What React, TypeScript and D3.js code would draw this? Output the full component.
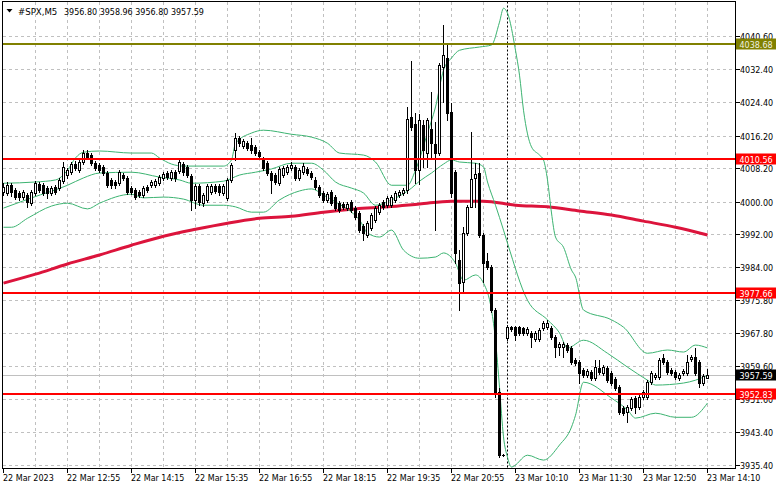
import * as d3 from 'd3';
import React from 'react';

const symbol = '#SPX,M5';
const lastQuote = '3956.80 3958.96 3956.80 3957.59';

const timeLabels = [
  '22 Mar 2023', '22 Mar 12:55', '22 Mar 14:15', '22 Mar 15:35', '22 Mar 16:55', '22 Mar 18:15',
  '22 Mar 19:35', '22 Mar 20:55', '23 Mar 10:10', '23 Mar 11:30', '23 Mar 12:50', '23 Mar 14:10',
];
const priceTicks = [
  4040.6, 4032.4, 4024.4, 4016.2, 4008.2, 4000.0, 3992.0, 3984.0, 3975.8, 3967.8, 3959.6, 3951.6, 3943.4, 3935.4,
];

// M5 bars, [open, high, low, close]
const bars: [number, number, number, number][] = [
  [4002.3, 4004.5, 4001.6, 4003.6], [4002.1, 4004.8, 4001.6, 4004.0], [4004.0, 4004.5, 4001.3, 4002.3], [4002.8, 4003.3, 4000.6, 4001.1],
  [4002.1, 4002.6, 4000.4, 4001.1], [4001.1, 4002.8, 4000.6, 4002.3], [4001.6, 4002.1, 3998.7, 3999.9], [3999.6, 4002.8, 3999.1, 4002.3],
  [4002.1, 4005.0, 4001.6, 4004.5], [4004.3, 4004.8, 4002.3, 4002.8], [4004.0, 4004.5, 4001.6, 4002.1], [4003.3, 4003.8, 4000.9, 4002.1],
  [4002.1, 4003.8, 4001.6, 4003.3], [4003.6, 4004.0, 4001.8, 4002.3], [4003.3, 4005.8, 4002.8, 4005.3], [4005.0, 4009.7, 4004.5, 4008.5],
  [4006.5, 4008.2, 4005.8, 4007.7], [4007.2, 4009.7, 4006.7, 4009.2], [4009.2, 4009.9, 4007.7, 4008.2], [4007.7, 4010.2, 4007.2, 4009.7],
  [4009.7, 4012.6, 4009.2, 4011.9], [4011.9, 4012.6, 4010.4, 4010.9], [4011.4, 4011.9, 4008.9, 4009.4], [4009.4, 4009.9, 4007.7, 4008.2],
  [4008.9, 4009.4, 4007.2, 4007.7], [4008.5, 4008.9, 4006.5, 4007.0], [4007.0, 4007.5, 4003.6, 4004.0], [4005.3, 4005.8, 4003.3, 4004.0],
  [4004.8, 4005.3, 4003.3, 4004.0], [4004.5, 4007.7, 4004.0, 4007.2], [4006.5, 4007.0, 4005.3, 4005.8], [4005.8, 4006.3, 4001.8, 4002.3],
  [4003.3, 4003.8, 4001.8, 4002.3], [4002.8, 4003.3, 4000.6, 4001.1], [4002.3, 4002.8, 4001.1, 4001.6], [4001.6, 4003.8, 4001.1, 4003.3],
  [4003.6, 4004.0, 4002.3, 4002.8], [4004.0, 4005.3, 4003.6, 4004.8], [4004.0, 4005.5, 4003.6, 4005.0], [4004.5, 4006.5, 4004.0, 4006.0],
  [4005.8, 4007.2, 4005.3, 4006.7], [4007.0, 4007.5, 4005.5, 4006.0], [4005.8, 4007.7, 4005.3, 4007.2], [4007.2, 4007.7, 4005.0, 4005.8],
  [4007.5, 4010.7, 4007.0, 4009.7], [4009.2, 4009.7, 4006.5, 4007.2], [4008.5, 4008.9, 4006.0, 4006.5], [4006.3, 4006.7, 3997.9, 4000.4],
  [4000.4, 4004.3, 3998.4, 4003.8], [4003.8, 4004.3, 3999.1, 3999.9], [3999.6, 4002.1, 3998.9, 4001.6], [4000.4, 4004.3, 3999.9, 4003.8],
  [4002.3, 4004.3, 4001.8, 4003.8], [4003.8, 4004.3, 4002.1, 4002.6], [4003.8, 4004.3, 4001.6, 4002.3], [4002.1, 4004.3, 4001.6, 4003.8],
  [4000.9, 4005.8, 4000.4, 4005.3], [4005.3, 4009.4, 4004.8, 4008.9], [4012.6, 4016.8, 4010.2, 4015.6], [4015.6, 4016.0, 4013.6, 4014.3],
  [4013.6, 4015.3, 4013.1, 4014.8], [4014.3, 4014.8, 4012.6, 4013.1], [4013.8, 4015.6, 4011.9, 4012.6], [4013.4, 4013.8, 4011.4, 4011.9],
  [4012.1, 4012.6, 4010.7, 4011.2], [4010.4, 4010.9, 4007.7, 4008.2], [4009.4, 4009.9, 4006.5, 4007.0], [4007.0, 4007.5, 4002.1, 4005.3],
  [4006.5, 4007.0, 4004.3, 4004.8], [4004.5, 4008.5, 4004.0, 4008.0], [4006.5, 4008.7, 4006.0, 4008.2], [4007.2, 4008.9, 4006.7, 4008.5],
  [4008.2, 4009.7, 4007.7, 4008.9], [4008.5, 4008.9, 4005.3, 4005.8], [4005.8, 4008.2, 4005.3, 4007.7], [4007.2, 4009.4, 4006.7, 4008.7],
  [4008.0, 4008.5, 4006.5, 4007.0], [4007.0, 4007.5, 4005.5, 4006.0], [4005.3, 4006.0, 4003.1, 4003.6], [4003.6, 4004.0, 4001.1, 4001.6],
  [4002.1, 4002.6, 3999.9, 4000.4], [4000.4, 4002.3, 3999.9, 4001.8], [4002.3, 4002.8, 3999.1, 3999.6], [4001.1, 4001.6, 3997.9, 3998.4],
  [3999.6, 4000.1, 3997.4, 3997.9], [3999.4, 3999.9, 3998.2, 3998.7], [3998.4, 3999.9, 3997.9, 3999.4], [3999.9, 4000.4, 3997.4, 3997.9],
  [3998.4, 3998.9, 3995.7, 3996.2], [3997.2, 3997.7, 3992.5, 3993.0], [3994.0, 3994.5, 3990.6, 3992.3], [3991.8, 3995.2, 3991.3, 3994.7],
  [3993.5, 3997.2, 3993.0, 3996.7], [3995.5, 3998.9, 3995.0, 3998.4], [3997.4, 3999.6, 3996.9, 3999.1], [3999.9, 4000.4, 3998.2, 3998.7],
  [3999.1, 4001.3, 3998.7, 4000.9], [3999.1, 4001.6, 3998.7, 4001.1], [4000.4, 4002.6, 3999.9, 4002.1], [4001.6, 4002.8, 4001.1, 4002.3],
  [4002.1, 4003.3, 4001.6, 4002.8], [4002.8, 4023.2, 4002.1, 4020.2], [4020.7, 4034.4, 4017.5, 4018.3], [4019.0, 4021.7, 4004.5, 4007.7],
  [4007.7, 4021.4, 4004.3, 4020.0], [4018.7, 4020.0, 4008.5, 4012.6], [4011.9, 4020.5, 4008.5, 4020.0], [4017.8, 4026.8, 4010.9, 4014.3],
  [4014.1, 4019.5, 3993.0, 4011.9], [4011.9, 4034.0, 4011.4, 4033.5], [4033.0, 4043.3, 4024.4, 4035.9], [4035.2, 4038.9, 4020.0, 4021.7],
  [4021.9, 4024.2, 4001.1, 4002.1], [4007.2, 4007.7, 3984.9, 3987.4], [3985.6, 3988.1, 3973.4, 3980.0], [3980.3, 3993.7, 3977.6, 3992.3],
  [3992.3, 3999.1, 3991.8, 3998.7], [3998.7, 4017.0, 3998.7, 4005.5], [4005.8, 4009.4, 3998.7, 4006.7], [4007.0, 4009.4, 3991.3, 3991.8],
  [3991.8, 3992.3, 3980.3, 3984.9], [3985.4, 3987.4, 3983.4, 3983.9], [3983.9, 3984.4, 3972.9, 3973.4], [3973.4, 3973.9, 3952.1, 3953.3],
  [3953.3, 3954.3, 3937.3, 3937.8], [3937.8, 3938.1, 3937.6, 3937.8], [3966.5, 3969.7, 3966.0, 3969.2], [3969.2, 3969.5, 3968.2, 3968.7],
  [3969.2, 3969.5, 3966.0, 3967.3], [3969.2, 3969.5, 3967.3, 3967.8], [3969.0, 3969.2, 3967.3, 3967.8], [3967.8, 3969.2, 3967.3, 3968.7],
  [3967.8, 3968.2, 3964.3, 3966.8], [3966.3, 3968.2, 3965.8, 3967.8], [3966.3, 3969.0, 3965.8, 3968.5], [3969.0, 3970.7, 3968.5, 3970.2],
  [3969.2, 3971.0, 3968.7, 3970.2], [3969.0, 3969.5, 3966.3, 3966.8], [3966.8, 3967.3, 3961.9, 3964.3], [3964.3, 3965.5, 3962.4, 3965.0],
  [3964.3, 3965.5, 3961.9, 3965.0], [3964.8, 3965.3, 3963.1, 3963.6], [3964.1, 3964.6, 3960.1, 3960.6], [3961.1, 3961.6, 3959.9, 3960.4],
  [3960.6, 3961.1, 3955.5, 3957.9], [3958.7, 3959.2, 3956.9, 3957.4], [3957.4, 3958.9, 3956.9, 3958.4], [3958.2, 3958.7, 3956.2, 3956.7],
  [3956.7, 3961.1, 3956.2, 3959.4], [3959.2, 3961.1, 3957.7, 3958.2], [3957.9, 3959.9, 3957.4, 3959.4], [3959.2, 3959.7, 3955.7, 3956.2],
  [3957.9, 3958.4, 3955.0, 3955.5], [3956.5, 3956.9, 3953.8, 3954.3], [3954.5, 3955.0, 3947.9, 3948.4], [3949.4, 3949.9, 3947.6, 3948.1],
  [3948.4, 3950.1, 3945.9, 3949.6], [3949.4, 3952.1, 3948.9, 3951.6], [3951.8, 3952.3, 3948.1, 3949.6], [3949.6, 3952.5, 3949.1, 3952.1],
  [3952.1, 3953.8, 3951.6, 3953.3], [3952.1, 3956.2, 3951.6, 3955.7], [3955.7, 3958.4, 3955.2, 3957.9], [3956.9, 3957.9, 3956.5, 3957.4],
  [3956.9, 3961.6, 3956.5, 3961.1], [3961.6, 3962.6, 3960.1, 3960.6], [3960.6, 3961.1, 3957.7, 3958.2], [3958.7, 3959.2, 3957.4, 3957.9],
  [3958.2, 3958.7, 3956.5, 3956.9], [3956.7, 3957.9, 3956.2, 3957.4], [3957.9, 3958.9, 3957.4, 3958.4], [3957.9, 3962.4, 3957.4, 3960.6],
  [3961.4, 3962.4, 3960.9, 3961.9], [3961.9, 3964.1, 3957.4, 3957.9], [3960.6, 3961.1, 3954.5, 3955.5], [3955.5, 3957.7, 3955.0, 3957.2],
  [3956.8, 3958.96, 3956.8, 3957.59],
];

// Bollinger bands and moving average, read as [bar index, price]
const upperBand: [number, number][] = [
  [0, 4004.5], [8, 4004.8], [13, 4005.3], [16, 4007.7], [18, 4010.7], [20, 4012.1], [24, 4012.4], [32, 4011.9],
  [37, 4011.9], [39, 4010.7], [42, 4009.2], [45, 4008.7], [55, 4008.7], [57, 4010.2], [58, 4014.3], [62, 4016.8],
  [65, 4017.5], [72, 4016.5], [77, 4015.8], [81, 4014.3], [84, 4011.9], [90, 4011.4], [93, 4009.7], [97, 4004.0],
  [101, 4004.0], [103, 4007.7], [106, 4016.8], [108, 4023.2], [110, 4032.2], [112, 4035.2], [114, 4037.1], [119, 4037.9],
  [122, 4038.4], [124, 4044.0], [125, 4047.4], [126, 4046.2], [128, 4037.1], [129, 4031.0], [130, 4022.4], [132, 4013.4],
  [134, 4011.4], [135, 4010.2], [136, 4005.3], [137, 3997.2], [138, 3991.3], [140, 3988.8], [142, 3983.2], [143, 3981.5],
  [145, 3973.4], [152, 3971.0], [155, 3969.2], [161, 3962.8], [166, 3963.6], [170, 3963.1], [173, 3964.8], [176, 3964.1],
];
const middleBand: [number, number][] = [
  [0, 3998.4], [7, 4000.9], [16, 4004.0], [20, 4005.8], [24, 4007.0], [32, 4007.2], [39, 4006.0], [44, 4005.3],
  [47, 4004.5], [55, 4005.0], [59, 4006.5], [63, 4007.2], [67, 4008.0], [72, 4009.4], [77, 4009.4], [80, 4007.7],
  [83, 4004.8], [87, 4003.3], [90, 4002.1], [93, 3999.1], [97, 4000.4], [102, 4003.3], [104, 4005.0], [107, 4007.0],
  [110, 4009.2], [112, 4010.2], [114, 4009.7], [118, 4009.4], [120, 4008.5], [121, 4004.8], [123, 3999.1], [125, 3993.0],
  [126, 3989.8], [131, 3975.8], [136, 3971.0], [139, 3967.8], [141, 3964.1], [145, 3966.0], [151, 3962.8], [156, 3959.4],
  [161, 3956.2], [163, 3955.0], [170, 3955.5], [173, 3956.2], [176, 3957.4],
];
const lowerBand: [number, number][] = [
  [0, 3993.7], [2, 3993.7], [6, 3995.9], [12, 3998.9], [16, 3999.6], [21, 3998.2], [24, 3999.6], [32, 4001.8],
  [35, 4000.9], [40, 4001.1], [45, 4000.6], [50, 3999.1], [55, 3999.1], [58, 3998.7], [62, 3997.4], [65, 3997.4],
  [69, 4000.4], [74, 4002.6], [77, 4003.1], [80, 4001.6], [83, 3999.9], [87, 3997.4], [89, 3995.5], [91, 3992.3],
  [94, 3991.3], [97, 3993.0], [100, 3988.1], [104, 3986.1], [108, 3986.4], [110, 3987.4], [113, 3984.9], [115, 3980.7],
  [118, 3982.0], [120, 3980.0], [122, 3973.4], [123, 3966.0], [124, 3954.5], [125, 3942.3], [126, 3937.3], [127, 3934.9],
  [131, 3937.8], [135, 3936.6], [139, 3940.3], [142, 3944.7], [143, 3947.6], [145, 3955.7], [152, 3951.8], [156, 3948.9],
  [158, 3946.9], [163, 3948.1], [168, 3947.1], [172, 3947.1], [176, 3950.6],
];
const slowMa: [number, number][] = [
  [0, 3980.0], [8, 3982.2], [16, 3984.7], [24, 3986.9], [32, 3989.3], [40, 3991.5], [48, 3993.2], [56, 3994.7],
  [64, 3995.9], [72, 3996.4], [80, 3997.4], [88, 3998.2], [96, 3998.7], [104, 3999.4], [112, 4000.1], [120, 4000.1],
  [128, 3999.1], [136, 3998.7], [144, 3997.7], [152, 3996.7], [160, 3995.2], [168, 3993.7], [176, 3991.8],
];

const oliveLevel = 4038.68;
const redLevels = [4010.56, 3977.66, 3952.83];
const bidPrice = 3957.59;
const dayStartBar = 126;

const W = 781;
const H = 489;
const FONT = '"DejaVu Sans", Verdana, sans-serif';

export default function App() {
  const left = 2.5, right = 735.5, top = 1.5, bottom = 468.5;
  const x = d3.scaleLinear().domain([0, bars.length - 1]).range([3.5, 3.5 + 4 * (bars.length - 1)]);
  const y = d3.scaleLinear().domain([3935.4, 4040.6]).range([465, 36]);
  const py = (p: number) => Math.round(y(p)) + 0.5;
  const curve = d3.line<[number, number]>().x((d) => x(d[0])).y((d) => y(d[1])).curve(d3.curveMonotoneX);

  const vGrid = d3.range(8, bars.length, 8);
  const labelBars = d3.range(0, bars.length, 16);

  const box = (p: number, fill: string, color: string, label: string) => {
    const cy = Math.round(y(p));
    return (
      <g key={label}>
        <rect x={736} y={cy - 5.5} width={40} height={11} fill={fill} />
        <text x={739.5} y={cy + 3.5} fontSize={8} fill={color} fontFamily={FONT}>{label}</text>
      </g>
    );
  };

  return (
    <svg width={W} height={H} style={{ position: 'absolute', left: 0, top: 0, background: '#fff' }}>
      <defs>
        <clipPath id="plot">
          <rect x={left} y={top} width={right - left} height={bottom - top} />
        </clipPath>
      </defs>
      <rect width={W} height={H} fill="#fff" />

      <g stroke="#c0c0c0" strokeDasharray="3,3" shapeRendering="crispEdges">
        {priceTicks.map((p) => (
          <line key={p} x1={left} x2={right} y1={py(p)} y2={py(p)} />
        ))}
        {vGrid.map((i) => (
          <line key={i} x1={x(i)} x2={x(i)} y1={top} y2={bottom} />
        ))}
      </g>

      <g clipPath="url(#plot)">
        <line x1={left} x2={right} y1={py(bidPrice)} y2={py(bidPrice)} stroke="#c0c0c0" />
        <line x1={x(dayStartBar)} x2={x(dayStartBar)} y1={top} y2={bottom} stroke="#000" strokeDasharray="2,2" />

        <path d={curve(slowMa) ?? ''} fill="none" stroke="#dc143c" strokeWidth={3} />
        {[upperBand, middleBand, lowerBand].map((b, k) => (
          <path key={k} d={curve(b) ?? ''} fill="none" stroke="#3cb371" strokeWidth={1} />
        ))}

        {bars.map(([o, h, l, c], i) => {
          const cx = x(i);
          const yo = Math.round(y(o));
          const yc = Math.round(y(c));
          const t = Math.min(yo, yc);
          const b = Math.max(yo, yc);
          const bull = c >= o;
          return (
            <g key={i}>
              <line x1={cx} x2={cx} y1={Math.round(y(h))} y2={Math.round(y(l)) + 1} stroke="#000" />
              {b - t < 1 ? (
                <line x1={cx - 1.5} x2={cx + 1.5} y1={t + 0.5} y2={t + 0.5} stroke="#000" />
              ) : (
                <rect x={cx - 1} y={t + 0.5} width={2} height={b - t} fill={bull ? '#fff' : '#000'} stroke="#000" />
              )}
            </g>
          );
        })}

        <line x1={left} x2={right} y1={Math.round(y(oliveLevel))} y2={Math.round(y(oliveLevel))} stroke="#808000" strokeWidth={2} />
        {redLevels.map((p) => (
          <line key={p} x1={left} x2={right} y1={Math.round(y(p))} y2={Math.round(y(p))} stroke="#ff0000" strokeWidth={2} />
        ))}
      </g>

      <rect x={left} y={top} width={right - left} height={bottom - top} fill="none" stroke="#000" shapeRendering="crispEdges" />

      <g fontFamily={FONT} fontSize={8} fill="#000">
        {priceTicks.map((p) => (
          <g key={p}>
            <line x1={right} x2={right + 4} y1={py(p)} y2={py(p)} stroke="#000" shapeRendering="crispEdges" />
            <text x={740} y={Math.round(y(p)) + 3.5}>{p.toFixed(2)}</text>
          </g>
        ))}
        {labelBars.map((i, k) => (
          <g key={i}>
            <line x1={x(i)} x2={x(i)} y1={bottom} y2={bottom + 4} stroke="#000" shapeRendering="crispEdges" />
            <text x={x(i) - 0.5} y={481}>{timeLabels[k]}</text>
          </g>
        ))}
      </g>

      {box(oliveLevel, '#808000', '#f0f0e0', oliveLevel.toFixed(2))}
      {redLevels.map((p) => box(p, '#ff0000', '#fff', p.toFixed(2)))}
      {box(bidPrice, '#000', '#fff', bidPrice.toFixed(2))}

      <path d="M6.5,9 L12.5,9 L9.5,12.5 Z" fill="#000" />
      <text x={18} y={14.5} fontFamily={FONT} fontSize={8.6} fill="#000">{symbol}</text>
      <text x={64} y={14.5} fontFamily={FONT} fontSize={8} fill="#000">{lastQuote}</text>
    </svg>
  );
}
